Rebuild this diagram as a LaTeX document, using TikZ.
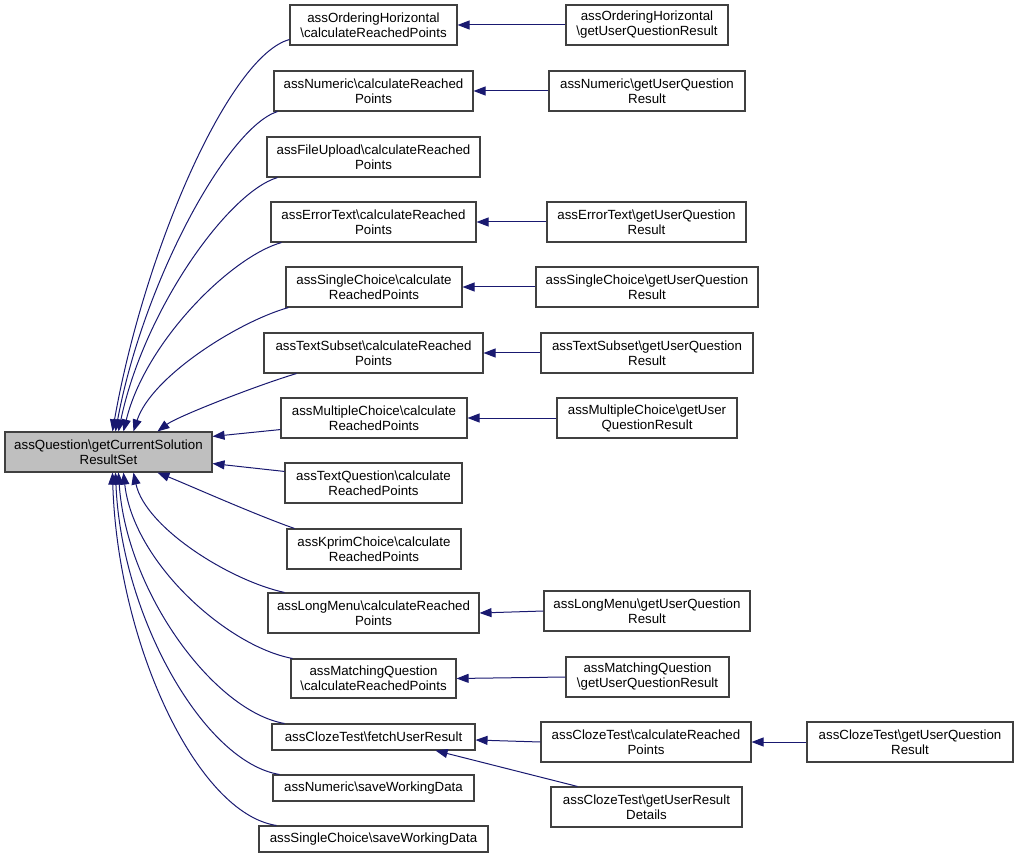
\documentclass[tikz,border=0pt]{standalone}
\usepackage{fontspec}
\setmainfont{Liberation Sans}
\usetikzlibrary{arrows.meta,calc}
\definecolor{edgec}{HTML}{191970}
\definecolor{boxc}{HTML}{404040}
\definecolor{mainfill}{HTML}{BFBFBF}
\def\mybs{\textbackslash}
\tikzset{
  box/.style={draw=boxc, line width=1.1pt, fill=white, inner sep=0pt, align=center,
    font=\fontsize{13.3}{15}\selectfont},
  wh/.style 2 args={minimum width=#1pt, minimum height=#2pt},
  edge/.style={draw=edgec, line width=1pt, -{Triangle[length=12pt,width=9pt]}}
}
\begin{document}
\begin{tikzpicture}[x=1pt,y=-1pt]
\useasboundingbox (0,0) rectangle (1017,858);
% main
\node[box, wh={207}{40}, fill=mainfill] (m) at (108.5,452) {assQuestion\mybs getCurrentSolution\\ResultSet};
% column 1
\node[box, wh={167}{40}] (a1) at (373.5,25) {assOrderingHorizontal\\\mybs calculateReachedPoints};
\node[box, wh={199}{40}] (a2) at (373.5,91) {assNumeric\mybs calculateReached\\Points};
\node[box, wh={213}{40}] (a3) at (373.5,157) {assFileUpload\mybs calculateReached\\Points};
\node[box, wh={205}{40}] (a4) at (373.5,222) {assErrorText\mybs calculateReached\\Points};
\node[box, wh={176}{40}] (a5) at (374,287) {assSingleChoice\mybs calculate\\ReachedPoints};
\node[box, wh={219}{40}] (a6) at (373.5,353) {assTextSubset\mybs calculateReached\\Points};
\node[box, wh={186}{40}] (a7) at (374,418) {assMultipleChoice\mybs calculate\\ReachedPoints};
\node[box, wh={177}{40}] (a8) at (373.5,483) {assTextQuestion\mybs calculate\\ReachedPoints};
\node[box, wh={174}{40}] (a9) at (374,549) {assKprimChoice\mybs calculate\\ReachedPoints};
\node[box, wh={211}{40}] (a10) at (373.5,613) {assLongMenu\mybs calculateReached\\Points};
\node[box, wh={165}{39}] (a11) at (373.5,678.5) {assMatchingQuestion\\\mybs calculateReachedPoints};
\node[box, wh={203}{26}] (a12) at (373.5,737) {assClozeTest\mybs fetchUserResult};
\node[box, wh={201}{26}] (a13) at (373.5,788) {assNumeric\mybs saveWorkingData};
\node[box, wh={229}{26}] (a14) at (373.5,839) {assSingleChoice\mybs saveWorkingData};
% column 2
\node[box, wh={162}{40}] (b1) at (647,25) {assOrderingHorizontal\\\mybs getUserQuestionResult};
\node[box, wh={196}{40}] (b2) at (647,91) {assNumeric\mybs getUserQuestion\\Result};
\node[box, wh={199}{40}] (b4) at (646.5,222) {assErrorText\mybs getUserQuestion\\Result};
\node[box, wh={222}{40}] (b5) at (647,287) {assSingleChoice\mybs getUserQuestion\\Result};
\node[box, wh={212}{40}] (b6) at (647,353) {assTextSubset\mybs getUserQuestion\\Result};
\node[box, wh={180}{40}] (b7) at (647,418) {assMultipleChoice\mybs getUser\\QuestionResult};
\node[box, wh={206}{40}] (b10) at (647,611) {assLongMenu\mybs getUserQuestion\\Result};
\node[box, wh={163}{40}] (b11) at (647.5,677) {assMatchingQuestion\\\mybs getUserQuestionResult};
\node[box, wh={210}{40}] (b12) at (646,742) {assClozeTest\mybs calculateReached\\Points};
\node[box, wh={191}{40}] (b13) at (646.5,807) {assClozeTest\mybs getUserResult\\Details};
% column 3
\node[box, wh={206}{40}] (c12) at (910,742) {assClozeTest\mybs getUserQuestion\\Result};
% edges col2 -> col1
\draw[edge] (b1.west) -- (a1.east);
\draw[edge] (b2.west) -- (a2.east);
\draw[edge] (b4.west) -- (a4.east);
\draw[edge] (b5.west) -- (a5.east);
\draw[edge] (b6.west) -- (a6.east);
\draw[edge] (b7.west) -- (a7.east);
\draw[edge] (b10.west) -- (a10.east);
\draw[edge] (b11.west) -- (a11.east);
\draw[edge] (b12.west) -- ($(a12.east)+(0,3)$);
\draw[edge] ($(b13.north west)+(27,0)$) -- ($(a12.south east)+(-40,0)$);
\draw[edge] (c12.west) -- (b12.east);
% edges col1 -> main (top)
\draw[edge] ($(a1.south west)+(0,-6)$) .. controls +(-60,16) and +(32,-182) .. ($(m.north west)+(108,0)$);
\draw[edge] ($(a2.south west)+(4,0)$) .. controls +(-50,16) and +(28,-150) .. ($(m.north west)+(111,0)$);
\draw[edge] ($(a3.south west)+(11,0)$) .. controls +(-50,15) and +(25,-120) .. ($(m.north west)+(114,0)$);
\draw[edge] ($(a4.south west)+(11,0)$) .. controls +(-50,14) and +(22,-90) .. ($(m.north west)+(119,0)$);
\draw[edge] ($(a5.south west)+(3,0)$) .. controls +(-50,14) and +(18,-55) .. ($(m.north west)+(129,0)$);
\draw[edge] ($(a6.south west)+(33,0)$) .. controls +(-40,12) and +(20,-15) .. ($(m.north west)+(153,0)$);
\draw[edge] ($(a7.south west)+(0,-9)$) -- ($(m.north east)+(0,5)$);
\draw[edge] ($(a8.north west)+(0,9)$) -- ($(m.south east)+(0,-9)$);
% edges col1 -> main (bottom)
\draw[edge] ($(a9.north west)+(8,0)$) .. controls +(-40,-14) and +(30,12) .. ($(m.south west)+(153,0)$);
\draw[edge] ($(a10.north west)+(17,0)$) .. controls +(-55,-12) and +(12,55) .. ($(m.south west)+(129,0)$);
\draw[edge] ($(a11.north west)+(2,0)$) .. controls +(-65,-12) and +(10,90) .. ($(m.south west)+(119,0)$);
\draw[edge] ($(a12.north west)+(13,0)$) .. controls +(-70,-12) and +(8,120) .. ($(m.south west)+(114,0)$);
\draw[edge] ($(a13.north west)+(7,0)$) .. controls +(-75,-12) and +(6,145) .. ($(m.south west)+(111,0)$);
\draw[edge] ($(a14.north west)+(18,0)$) .. controls +(-80,-12) and +(5,170) .. ($(m.south west)+(108,0)$);
\end{tikzpicture}
\end{document}
